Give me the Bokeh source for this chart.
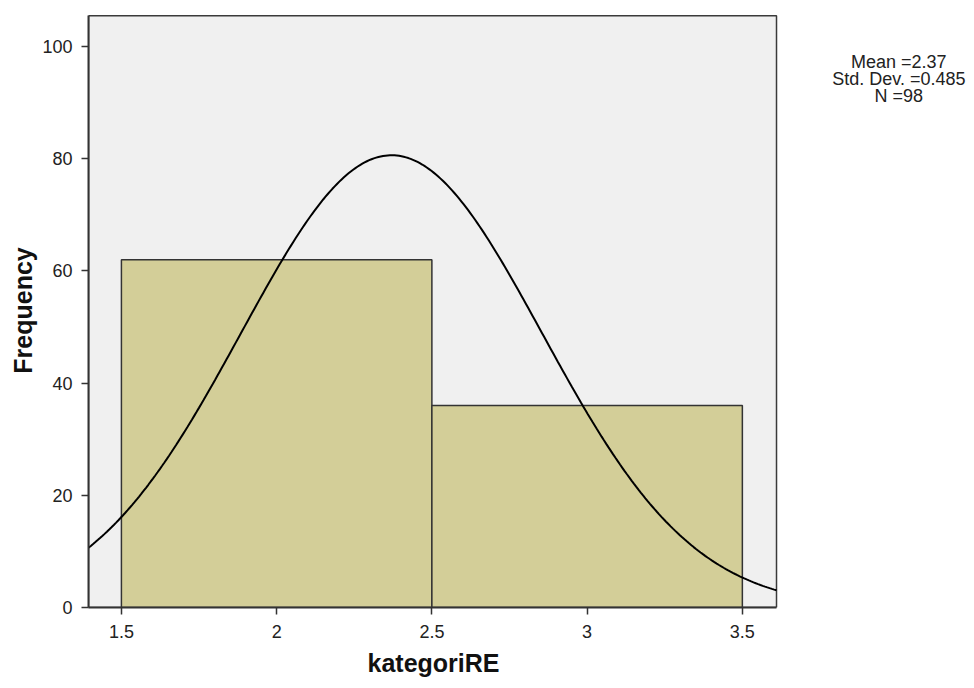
import numpy as np
from bokeh.plotting import figure
from bokeh.models import FixedTicker, Range1d, Title
from bokeh.core.properties import value
from bokeh.embed import file_html
from bokeh.resources import INLINE

# ---- data ----
bin_left = [1.5, 2.5]
bin_right = [2.5, 3.5]
counts = [62, 36]
mean_val = 2.37
std_dev = 0.485
n_total = 98
x_ticks = [1.5, 2, 2.5, 3, 3.5]
x_tick_labels = ["1.5", "2", "2.5", "3", "3.5"]
y_ticks = [0, 20, 40, 60, 80, 100]
stats_lines = ["Mean =2.37", "Std. Dev. =0.485", "N =98"]
x_label = "kategoriRE"
y_label = "Frequency"

# visible plot box (data units)
BOX_X0, BOX_X1 = 1.394, 3.61
BOX_Y0, BOX_Y1 = 0, 105.5
# full frame incl. the legend area on the right
FRAME_X1 = 4.2348
FRAME_Y1 = 105.88

p = figure(width=970, height=688, output_backend="svg", toolbar_location=None,
           x_range=Range1d(BOX_X0, FRAME_X1), y_range=Range1d(BOX_Y0, FRAME_Y1),
           min_border_left=88, min_border_right=0, min_border_top=13, min_border_bottom=81)

p.background_fill_color = "white"
p.border_fill_color = "white"
p.outline_line_color = None
p.xgrid.visible = False
p.ygrid.visible = False

# plot box background and border
p.quad(left=[BOX_X0], right=[BOX_X1], bottom=[BOX_Y0], top=[BOX_Y1],
       fill_color="#F0F0F0", line_color="#3a3a3a", line_width=1.5)

p.quad(left=bin_left, right=bin_right, bottom=0, top=counts,
       fill_color="#D3CE98", line_color="#333333", line_width=1.5)

# fitted normal curve from the reported statistics
bin_width = bin_right[0] - bin_left[0]
xs = np.linspace(BOX_X0, BOX_X1, 300)
ys = n_total * bin_width / (std_dev * np.sqrt(2 * np.pi)) * np.exp(-0.5 * ((xs - mean_val) / std_dev) ** 2)
p.line(xs, ys, line_color="black", line_width=2)

for ax in (p.xaxis[0], p.yaxis[0]):
    ax.axis_line_color = "#333333"
    ax.axis_line_width = 2
    ax.major_tick_line_color = "#333333"
    ax.major_tick_line_width = 1.5
    ax.major_tick_in = 0
    ax.major_tick_out = 7
    ax.minor_tick_line_color = None
    ax.major_label_text_font = "Liberation Sans"
    ax.major_label_text_font_size = "18px"
    ax.major_label_text_color = "#222222"
    ax.axis_label_text_font = "Liberation Sans"
    ax.axis_label_text_font_style = "bold"
    ax.axis_label_text_font_size = "25px"
    ax.axis_label_text_color = "#111111"

p.xaxis.bounds = (BOX_X0, BOX_X1)
p.yaxis.bounds = (BOX_Y0, BOX_Y1)
p.xaxis.ticker = FixedTicker(ticks=x_ticks)
p.xaxis.major_label_overrides = {t: l for t, l in zip(x_ticks, x_tick_labels)}
p.yaxis.ticker = FixedTicker(ticks=y_ticks)
p.yaxis.axis_label = y_label
p.xaxis.major_label_standoff = 10
p.yaxis.major_label_standoff = 9
p.yaxis.axis_label_standoff = 2

# x-axis title centred under the plot box (not under the whole frame)
p.add_layout(Title(text=x_label, align="left", offset=279, standoff=12,
                   text_font="Liberation Sans", text_font_style="bold",
                   text_font_size="25px", text_color="#111111"), "below")

stat_x = [4.004] * len(stats_lines)
stat_y = [97.2, 94.2, 91.2]
p.text(x=stat_x, y=stat_y, text=stats_lines, text_align="center", text_baseline="middle",
       text_font=value("Liberation Sans"), text_font_size="18px", text_color="#222222")

open("out.html", "w").write(file_html(p, INLINE))
